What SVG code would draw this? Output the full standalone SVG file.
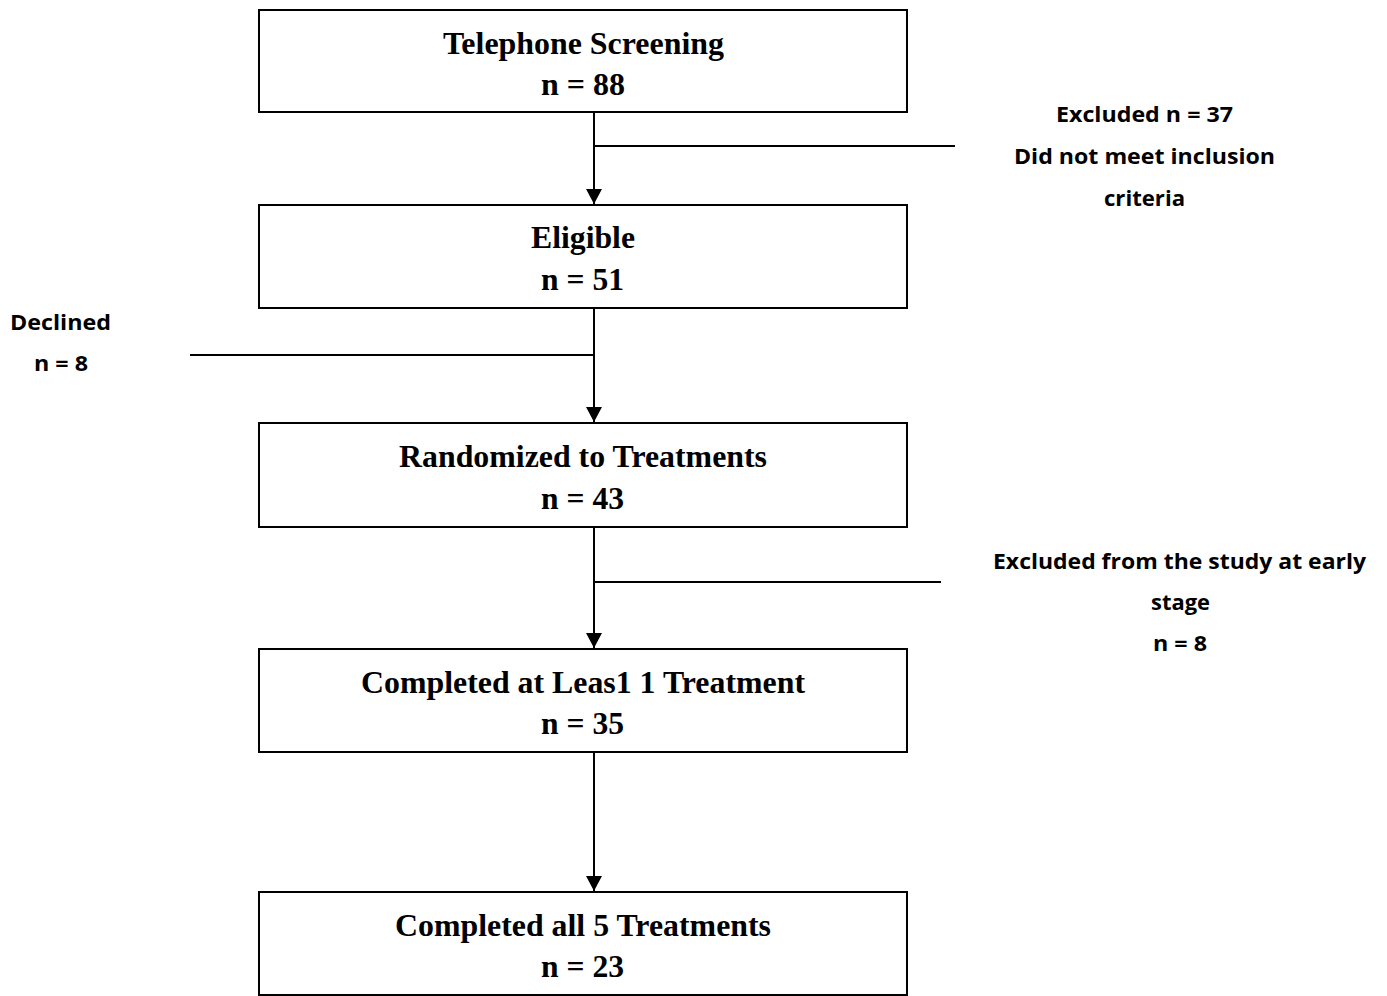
<svg xmlns="http://www.w3.org/2000/svg" width="1387" height="996" viewBox="0 0 1387 996">
  <defs>
    <marker id="arrow" markerWidth="16" markerHeight="16" refX="15" refY="8" orient="auto" markerUnits="userSpaceOnUse">
      <path d="M0,0 L15,8 L0,16 Z" fill="#000"/>
    </marker>
    <style>
      .box { fill: #fff; stroke: #000; stroke-width: 2; }
      .title { font-family: "Liberation Serif", "Times New Roman", serif; font-weight: bold; font-size: 31px; text-anchor: middle; fill: #000; }
      .note { font-family: "Open Sans", "Liberation Sans", sans-serif; font-weight: bold; font-size: 22px; text-anchor: middle; fill: #000; }
      .wire { stroke: #000; stroke-width: 2; fill: none; }
    </style>
  </defs>
  <rect width="1387" height="996" fill="#fff"/>

  <g id="connectors">
    <line class="wire" x1="594" y1="113" x2="594" y2="204" marker-end="url(#arrow)"/>
    <line class="wire" x1="594" y1="146" x2="955" y2="146"/>
    <line class="wire" x1="594" y1="309" x2="594" y2="422" marker-end="url(#arrow)"/>
    <line class="wire" x1="190" y1="355" x2="594" y2="355"/>
    <line class="wire" x1="594" y1="528" x2="594" y2="648" marker-end="url(#arrow)"/>
    <line class="wire" x1="594" y1="582" x2="941" y2="582"/>
    <line class="wire" x1="594" y1="753" x2="594" y2="891" marker-end="url(#arrow)"/>
  </g>

  <g id="screening">
    <rect class="box" x="259" y="10" width="648" height="102"/>
    <text class="title" x="583.5" y="54" textLength="281" lengthAdjust="spacingAndGlyphs">Telephone Screening</text>
    <text class="title" x="583" y="95" textLength="84" lengthAdjust="spacingAndGlyphs">n = 88</text>
  </g>

  <g id="eligible">
    <rect class="box" x="259" y="205" width="648" height="103"/>
    <text class="title" x="583" y="248" textLength="104" lengthAdjust="spacingAndGlyphs">Eligible</text>
    <text class="title" x="582.5" y="290" textLength="83" lengthAdjust="spacingAndGlyphs">n = 51</text>
  </g>

  <g id="randomized">
    <rect class="box" x="259" y="423" width="648" height="104"/>
    <text class="title" x="583" y="467" textLength="368" lengthAdjust="spacingAndGlyphs">Randomized to Treatments</text>
    <text class="title" x="582.5" y="509" textLength="83" lengthAdjust="spacingAndGlyphs">n = 43</text>
  </g>

  <g id="completed-one">
    <rect class="box" x="259" y="649" width="648" height="103"/>
    <text class="title" x="583" y="693" textLength="444" lengthAdjust="spacingAndGlyphs">Completed at Leas1 1 Treatment</text>
    <text class="title" x="582.5" y="734" textLength="83" lengthAdjust="spacingAndGlyphs">n = 35</text>
  </g>

  <g id="completed-all">
    <rect class="box" x="259" y="892" width="648" height="103"/>
    <text class="title" x="583" y="936" textLength="376" lengthAdjust="spacingAndGlyphs">Completed all 5 Treatments</text>
    <text class="title" x="582.5" y="977" textLength="83" lengthAdjust="spacingAndGlyphs">n = 23</text>
  </g>

  <g id="excluded-screening">
    <text class="note" x="1144.5" y="122" textLength="177" lengthAdjust="spacingAndGlyphs">Excluded n = 37</text>
    <text class="note" x="1144.5" y="164" textLength="261" lengthAdjust="spacingAndGlyphs">Did not meet inclusion</text>
    <text class="note" x="1144.5" y="206" textLength="81" lengthAdjust="spacingAndGlyphs">criteria</text>
  </g>

  <g id="declined">
    <text class="note" x="60.5" y="330" textLength="101" lengthAdjust="spacingAndGlyphs">Declined</text>
    <text class="note" x="61" y="371" textLength="54" lengthAdjust="spacingAndGlyphs">n = 8</text>
  </g>

  <g id="excluded-early">
    <text class="note" x="1179.5" y="569" textLength="373" lengthAdjust="spacingAndGlyphs">Excluded from the study at early</text>
    <text class="note" x="1180.5" y="610" textLength="59" lengthAdjust="spacingAndGlyphs">stage</text>
    <text class="note" x="1180" y="651" textLength="54" lengthAdjust="spacingAndGlyphs">n = 8</text>
  </g>
</svg>
